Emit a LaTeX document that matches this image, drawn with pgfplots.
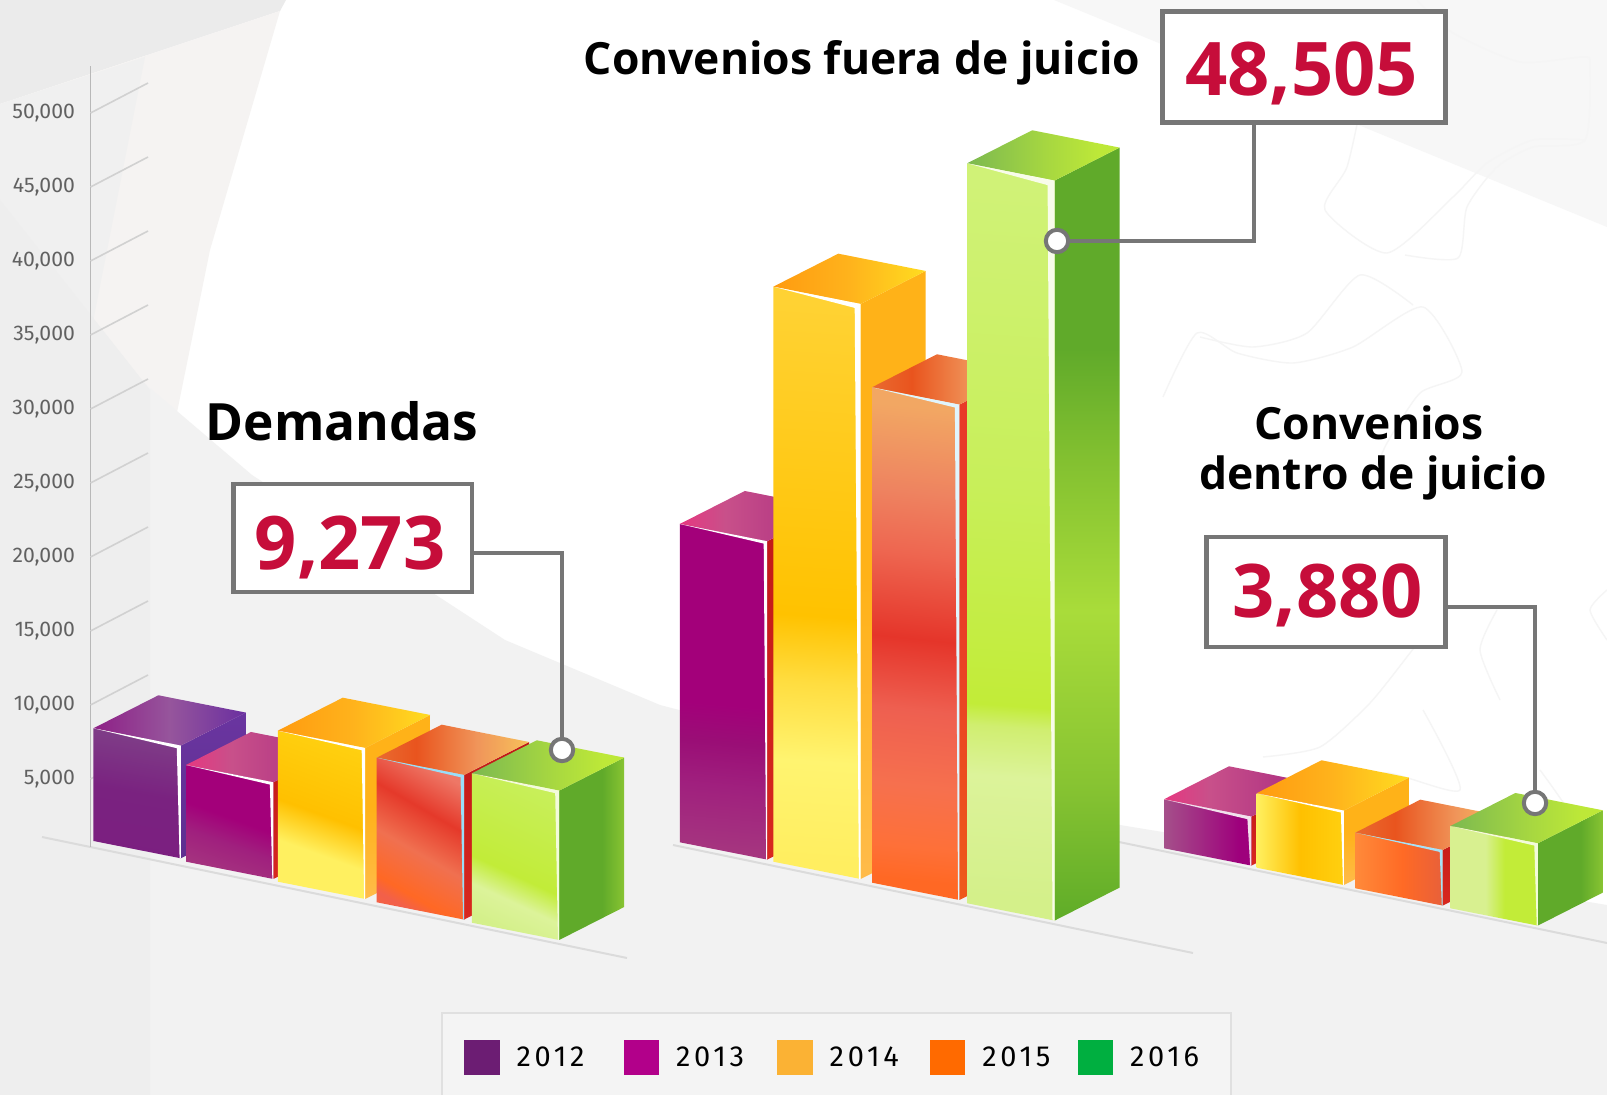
\documentclass[border=0pt]{standalone}
\usepackage{fontspec}
\setmainfont{Open Sans}
\newfontfamily\legfont[LetterSpace=13]{Fira Sans}
\newfontfamily\tickfont{Fira Sans}
\usepackage{pgfplots}
\pgfplotsset{compat=1.18}
% ---------- colours
\definecolor{cNum}{HTML}{C60D3A}
\definecolor{cBox}{HTML}{767676}
\newcommand{\C}[2]{\definecolor{#1}{HTML}{#2}}
\C{a1}{D4F08A}\C{a2}{DCF39A}\C{a3}{D0EE70}\C{a4}{C2EC38}\C{a5}{C8EF5A}\C{a6}{D0F277}
\C{b1}{5FAC28}\C{b2}{88C432}\C{b3}{A9DC3A}\C{b4}{82C030}\C{b5}{60AA2A}
\C{d1}{FFEE60}\C{d2}{FFF470}\C{d3}{FFDD40}\C{d4}{FFC200}\C{d5}{FFD233}
\C{e1}{FFBB4A}\C{e2}{FFB218}
\C{g1}{FF6824}\C{g2}{FE7038}\C{g3}{F6704E}\C{g4}{EE5F50}\C{g5}{E5352A}\C{g6}{EE6650}\C{g7}{EE8360}\C{g8}{F2A763}
\C{h1}{EE5A1A}\C{h2}{E83A28}
\C{m1}{A5357F}\C{m2}{A0207E}\C{m3}{9A0E76}\C{m4}{A3007A}\C{m5}{D8281F}\C{m6}{C01818}
\C{p1}{7B1F80}\C{p2}{7A2280}\C{p3}{7F3F88}\C{p4}{5E2F90}\C{p5}{6A35A0}
\C{t1}{8E1F86}\C{t2}{96559C}\C{t3}{6A2FA0}
\C{u1}{E63880}\C{u2}{C8508A}\C{u3}{A82A80}
\C{v1}{FF9B10}\C{v2}{FFB31C}\C{v3}{FFDC20}
\C{w1}{E96A30}\C{w2}{E9541E}\C{w3}{F0955A}\C{w4}{F7C25A}
\C{x1}{7CB950}\C{x2}{A8D840}\C{x3}{BDE838}
\C{r1}{A5508A}\C{r2}{9E007C}
\C{q1}{FFF060}\C{q2}{FFC000}\C{q3}{FFD010}
\C{n1}{FF8A3A}\C{n2}{FF6A25}\C{n3}{E8603A}
\C{o1}{D8F090}\C{o2}{C2EC38}
\C{y1}{F07050}\C{y2}{E5392A}\C{y3}{EE7766}\C{y4}{F2604A}
% ---------- shadings: the 25bp..75bp range fills the face
\pgfdeclareverticalshading{f16}{100bp}{color(0bp)=(a1);color(25bp)=(a1);color(33.5bp)=(a2);color(37bp)=(a3);color(38.5bp)=(a4);color(54bp)=(a5);color(75bp)=(a6);color(100bp)=(a6)}
\pgfdeclareverticalshading{s16}{100bp}{color(0bp)=(b1);color(25bp)=(b1);color(34bp)=(b2);color(45bp)=(b3);color(55bp)=(b4);color(62bp)=(b5);color(75bp)=(b5);color(100bp)=(b5)}
\pgfdeclareverticalshading{f14}{100bp}{color(0bp)=(d1);color(25bp)=(d1);color(34bp)=(d2);color(41bp)=(d3);color(47bp)=(d4);color(75bp)=(d5);color(100bp)=(d5)}
\pgfdeclareverticalshading{s14}{100bp}{color(0bp)=(e1);color(25bp)=(e1);color(50bp)=(e2);color(100bp)=(e2)}
\pgfdeclareverticalshading{f15}{100bp}{color(0bp)=(g1);color(25bp)=(g1);color(28.5bp)=(g2);color(35bp)=(g3);color(43bp)=(g4);color(50.5bp)=(g5);color(59.5bp)=(g6);color(66bp)=(g7);color(75bp)=(g8);color(100bp)=(g8)}
\pgfdeclareverticalshading{s15}{100bp}{color(0bp)=(h1);color(25bp)=(h1);color(55bp)=(h2);color(100bp)=(h2)}
\pgfdeclareverticalshading{f13}{100bp}{color(0bp)=(m1);color(25bp)=(m1);color(35bp)=(m2);color(42bp)=(m3);color(48bp)=(m4);color(100bp)=(m4)}
\pgfdeclareverticalshading{s13}{100bp}{color(0bp)=(m5);color(25bp)=(m5);color(75bp)=(m6);color(100bp)=(m6)}
\pgfdeclareverticalshading{f12}{100bp}{color(0bp)=(p1);color(25bp)=(p1);color(50bp)=(p2);color(75bp)=(p3);color(100bp)=(p3)}
\pgfdeclareverticalshading{s12}{100bp}{color(0bp)=(p4);color(25bp)=(p4);color(75bp)=(p5);color(100bp)=(p5)}
% small bars
\pgfdeclareverticalshading{ds13}{100bp}{color(0bp)=(m1);color(25bp)=(m1);color(40bp)=(m2);color(52bp)=(m4);color(100bp)=(m4)}
\pgfdeclareverticalshading{ds14}{100bp}{color(0bp)=(q1);color(25bp)=(q1);color(37bp)=(q1);color(50bp)=(q2);color(75bp)=(q3);color(100bp)=(q3)}
\pgfdeclareverticalshading{ds15}{100bp}{color(0bp)=(g1);color(25bp)=(y4);color(30bp)=(g1);color(45bp)=(y1);color(60bp)=(y2);color(75bp)=(y3);color(100bp)=(y3)}
\pgfdeclareverticalshading{ds16}{100bp}{color(0bp)=(a1);color(25bp)=(a1);color(35bp)=(a2);color(44bp)=(a4);color(75bp)=(a5);color(100bp)=(a5)}
\pgfdeclarehorizontalshading{ss16}{100bp}{color(0bp)=(b5);color(25bp)=(b5);color(58bp)=(b5);color(75bp)=(b2);color(100bp)=(b2)}
% right group
\pgfdeclarehorizontalshading{r13}{100bp}{color(0bp)=(r1);color(25bp)=(r1);color(68bp)=(r2);color(100bp)=(r2)}
\pgfdeclarehorizontalshading{r14}{100bp}{color(0bp)=(q1);color(25bp)=(q1);color(50bp)=(q2);color(75bp)=(q3);color(100bp)=(q3)}
\pgfdeclarehorizontalshading{r15}{100bp}{color(0bp)=(n1);color(25bp)=(n1);color(52bp)=(n2);color(75bp)=(n3);color(100bp)=(n3)}
\pgfdeclarehorizontalshading{r16}{100bp}{color(0bp)=(o1);color(25bp)=(o1);color(45bp)=(o1);color(56bp)=(o2);color(75bp)=(o2);color(100bp)=(o2)}
% top faces
\pgfdeclarehorizontalshading{t12}{100bp}{color(0bp)=(t1);color(25bp)=(t1);color(50bp)=(t2);color(75bp)=(t3);color(100bp)=(t3)}
\pgfdeclarehorizontalshading{t13}{100bp}{color(0bp)=(u1);color(25bp)=(u1);color(40bp)=(u2);color(75bp)=(u3);color(100bp)=(u3)}
\pgfdeclarehorizontalshading{t14}{100bp}{color(0bp)=(v1);color(25bp)=(v1);color(50bp)=(v2);color(75bp)=(v3);color(100bp)=(v3)}
\pgfdeclarehorizontalshading{t15}{100bp}{color(0bp)=(w1);color(25bp)=(w1);color(38bp)=(w2);color(58bp)=(w3);color(75bp)=(w4);color(100bp)=(w4)}
\pgfdeclarehorizontalshading{t16}{100bp}{color(0bp)=(x1);color(25bp)=(x1);color(52bp)=(x2);color(68bp)=(x3);color(100bp)=(x3)}
% ---------- one 3-D bar
\newcommand{\Bar}[9]{%
 \edef\xL{#6}\edef\xR{\fpeval{#6+87.4}}\edef\xA{\fpeval{#6+65}}\edef\xD{\fpeval{#6+152.4}}%
 \edef\yB{#7}\edef\yT{#8}\edef\yBR{\fpeval{#7-1169}}\edef\yTR{\fpeval{#8-1169}}%
 \edef\yA{\fpeval{#8+2230}}\edef\yD{\fpeval{#8+1061}}\edef\yE{\fpeval{#7+1061}}%
 \edef\xI{\fpeval{\xR-#9}}\edef\yI{\fpeval{\yTR-#9*44}}\edef\xJ{\fpeval{\xR-#9*0.3}}%
 \addplot[forget plot,draw=none,shade,shading=#4] coordinates {(\xR,\yTR)(\xD,\yD)(\xD,\yE)(\xR,\yBR)} -- cycle;
 \addplot[forget plot,draw=none,shade,shading=#1,shading angle=#2] coordinates {(\xL,\yT)(\xR,\yTR)(\xR,\yBR)(\xL,\yB)} -- cycle;
 \addplot[forget plot,draw=none,shade,shading=#3] coordinates {(\xL,\yT)(\xA,\yA)(\xD,\yD)(\xR,\yTR)} -- cycle;
 \addplot[forget plot,draw=none,fill=#5] coordinates {(\xL,\yT)(\xR,\yTR)(\xR,\yBR)(\xJ,\yBR)(\xI,\yI)} -- cycle;
}
\pgfplotsset{
 base/.style={scale only axis,width=803.5pt,height=547.5pt,xmin=0,xmax=1607},
 px/.style={base,ymin=0,ymax=1095,y dir=reverse,hide axis},
 wm/.style={forget plot,draw=black!4,line width=0.7pt,smooth,tension=0.4}
}
\newcommand{\LegImg}[3]{\addlegendimage{legend image code/.code={\fill[draw=none,fill={rgb,255:red,#1;green,#2;blue,#3}] (0pt,-8.75pt) rectangle (17.75pt,8.75pt);}}}
\begin{document}
\begin{tikzpicture}
% ===== background, in pixels
\begin{axis}[px]
\addplot[forget plot,draw=none,fill=white] coordinates {(0,0)(1607,0)(1607,1095)(0,1095)} -- cycle;
\addplot[forget plot,draw=none,fill=black!3] coordinates {(1054,0)(1607,227)(1607,0)} -- cycle;
\addplot[forget plot,draw=none,fill=black!8] coordinates {(0,0)(286,0)(280,11)(0,104)} -- cycle;
\addplot[forget plot,draw=none,fill={rgb,255:red,245;green,243;blue,242}] coordinates {(0,104)(280,11)(210,250)(147,560)(0,560)} -- cycle;
\addplot[forget plot,draw=none,fill=black!6] coordinates {(0,104)(145,57)(90,337)(0,200)} -- cycle;
\addplot[wm] coordinates {(1585,140)(1533,140)(1487,163)(1453,197)(1387,253)(1325,210)(1347,167)(1362,100)(1363,87)};
\addplot[wm] coordinates {(1405,255)(1458,258)(1467,207)(1497,167)(1533,147)(1585,140)(1590,65)(1583,57)(1520,62)(1453,33)(1417,0)};
\addplot[wm] coordinates {(1163,397)(1197,333)(1237,353)(1293,363)(1353,347)(1423,307)(1462,372)(1420,393)(1387,443)(1377,467)};
\addplot[wm] coordinates {(1200,337)(1253,347)(1307,333)(1360,275)(1413,305)};
\addplot[wm] coordinates {(1263,757)(1320,747)(1370,703)(1410,653)(1420,640)};
\addplot[wm] coordinates {(1423,710)(1460,790)(1385,773)(1340,800)};
\addplot[wm] coordinates {(1500,700)(1480,650)(1497,610)};
\addplot[wm] coordinates {(1540,770)(1590,850)(1570,930)};
\addplot[wm] coordinates {(1607,590)(1590,610)(1607,640)};
\addplot[forget plot,draw=none,fill=black!5] coordinates {(90,337)(252,475)(505,640)(660,705)(1120,825)(1607,905)(1607,1095)(0,1095)(0,200)} -- cycle;
\addplot[forget plot,draw=none,fill=black!6.5] coordinates {(0,200)(150,390)(150,1095)(0,1095)} -- cycle;
% ground lines
\addplot[forget plot,draw=black!14,line width=1pt] coordinates {(42,837)(627,958)};
\addplot[forget plot,draw=black!14,line width=1pt] coordinates {(673,845)(1193,953)};
\addplot[forget plot,draw=black!14,line width=1pt] coordinates {(1119,842)(1607,943)};
% legend frame
\addplot[forget plot,draw=black!12,line width=1pt,fill=black!4.5] coordinates {(442,1013)(1231,1013)(1231,1120)(442,1120)} -- cycle;
\end{axis}
% ===== the chart, y in demand units
\begin{axis}[base,ymin=-16352,ymax=57637,
  axis line style={draw=none},tick style={draw=none},major tick length=0pt,
  xtick=\empty,ytick={5000,10000,...,50000},ytick pos=left,scaled y ticks=false,
  /pgf/number format/.cd,assume math mode=true,1000 sep={,},
  /pgfplots/.cd,
  y tick label style={anchor=east,xshift=41pt,font=\tickfont\fontsize{10.6}{12}\selectfont,text=black!62},
  legend columns=5,
  legend cell align=left,
  legend style={at={(axis description cs:0.2885,0.0338)},anchor=west,draw=none,fill=none,inner sep=0pt,
    font=\legfont\fontsize{14.5}{16}\selectfont,nodes={inner sep=0pt},
    /tikz/column 1/.style={column sep=8.5pt},/tikz/column 2/.style={column sep=19.5pt},
    /tikz/column 3/.style={column sep=8.5pt},/tikz/column 4/.style={column sep=16.5pt},
    /tikz/column 5/.style={column sep=8.5pt},/tikz/column 6/.style={column sep=15.5pt},
    /tikz/column 7/.style={column sep=8.5pt},/tikz/column 8/.style={column sep=13.5pt},
    /tikz/column 9/.style={column sep=8.5pt}}
]
% axis line and slanted gridlines
\addplot[forget plot,draw=black!28,line width=0.9pt] coordinates {(90.5,405)(90.5,53178)};
\pgfplotsinvokeforeach{5000,10000,15000,20000,25000,30000,35000,40000,45000,50000}{
  \addplot[forget plot,draw=black!18,line width=0.8pt] coordinates {(90.5,#1)(148,{#1+2027})};
}
% Demandas:  front, angle, top, side, strip, x, base, top, strip width
\Bar{f12}{-10}{t12}{s12}{white}{93.4}{811}{8426}{4}
\Bar{ds13}{-20}{t13}{s13}{white}{186}{-588}{5946}{3.5}
\Bar{ds14}{-20}{t14}{s14}{white}{277.8}{-1939}{8264}{3.5}
\Bar{ds15}{-30}{t15}{s13}{cyan!40!white}{376.7}{-3331}{6439}{3.5}
\Bar{ds16}{-25}{t16}{ss16}{white!75!a3}{471.8}{-4710}{5385}{4}
% Convenios fuera de juicio
\Bar{f13}{-5}{t13}{s13}{white}{679.8}{723}{22231}{3.5}
\Bar{f14}{-4}{t14}{s14}{white}{773.3}{-588}{38265}{6}
\Bar{f15}{-6}{t15}{s15}{cyan!12!white}{872}{-2007}{31467}{4.5}
\Bar{f16}{-4}{t16}{s16}{white!85!a3}{967.2}{-3399}{46603}{7}
% Convenios dentro de juicio
\Bar{r13}{0}{t13}{s13}{white!85!m1}{1164}{318}{3629}{4}
\Bar{r14}{0}{t14}{s14}{white}{1256.5}{-993}{4034}{3}
\Bar{r15}{0}{t15}{s13}{cyan!35!white}{1355.3}{-2385}{1372}{3}
\Bar{r16}{0}{t16}{ss16}{white!75!a3}{1450.4}{-3737}{1824}{3.5}
\LegImg{108}{29}{115}\addlegendentry{2012}
\LegImg{178}{0}{138}\addlegendentry{2013}
\LegImg{251}{178}{52}\addlegendentry{2014}
\LegImg{255}{106}{0}\addlegendentry{2015}
\LegImg{0}{175}{64}\addlegendentry{2016}
\end{axis}
% ===== call-outs and titles, in pixels
\begin{axis}[px,clip=false]
\addplot[forget plot,draw=cBox,line width=2pt] coordinates {(1253.5,122)(1253.5,241)(1057,241)};
\addplot[forget plot,draw=cBox,line width=2pt] coordinates {(472,553.5)(562,553.5)(562,750)};
\addplot[forget plot,draw=cBox,line width=2pt] coordinates {(1446,607.3)(1535,607.3)(1535,803)};
\addplot[forget plot,draw=cBox,line width=2.2pt,fill=white] coordinates {(1162.5,11.5)(1445.5,11.5)(1445.5,122.5)(1162.5,122.5)} -- cycle;
\addplot[forget plot,draw=cBox,line width=2.2pt,fill=white] coordinates {(233.5,484)(472,484)(472,592)(233.5,592)} -- cycle;
\addplot[forget plot,draw=cBox,line width=2.2pt,fill=white] coordinates {(1206.5,537)(1445.5,537)(1445.5,647)(1206.5,647)} -- cycle;
\addplot[forget plot,only marks,mark=*,mark size=5.6pt,mark options={draw=cBox,fill=white,line width=2pt}] coordinates {(1057,241)(562,750)(1535,803)};
\node[anchor=base,font=\bfseries\fontsize{37}{37}\selectfont,text=cNum] at (axis cs:1301.5,96) {48,505};
\node[anchor=base,font=\bfseries\fontsize{37}{37}\selectfont,text=cNum] at (axis cs:350,570) {9,273};
\node[anchor=base,font=\bfseries\fontsize{37}{37}\selectfont,text=cNum] at (axis cs:1327.5,618) {3,880};
\node[anchor=base,font=\bfseries\fontsize{25.7}{25.7}\selectfont] at (axis cs:342,441) {Demandas};
\node[anchor=base,font=\bfseries\fontsize{22.2}{22.2}\selectfont] at (axis cs:862,75) {Convenios fuera de juicio};
\node[anchor=base,font=\bfseries\fontsize{22.2}{22.2}\selectfont] at (axis cs:1369,440) {Convenios};
\node[anchor=base,font=\bfseries\fontsize{22.2}{22.2}\selectfont] at (axis cs:1373,490) {dentro de juicio};
\end{axis}
\pgfresetboundingbox
\path[use as bounding box] (0,0) rectangle (803.5pt,547.5pt);
\end{tikzpicture}
\end{document}
